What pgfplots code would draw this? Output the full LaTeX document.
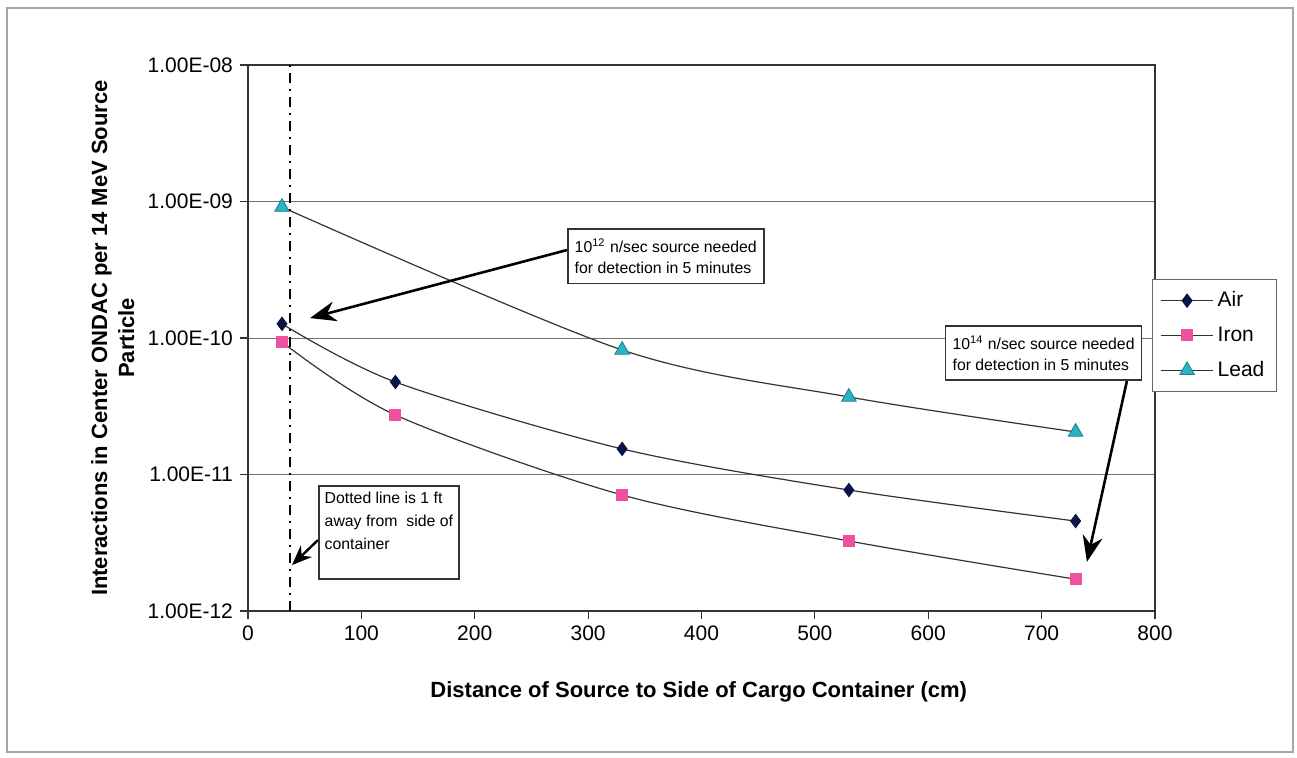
\documentclass[border=0pt]{standalone}
\usepackage{fontspec}
\setmainfont{Liberation Sans}
\usepackage{pgfplots}
\pgfplotsset{compat=1.18}
\usetikzlibrary{arrows.meta}

\definecolor{airc}{RGB}{10,20,70}
\definecolor{ironc}{RGB}{240,80,160}
\definecolor{leadc}{RGB}{40,180,195}

\newcommand{\tickfont}{\fontsize{10.5}{12}\selectfont}
\newcommand{\notefont}{\fontsize{7.9}{10.5}\selectfont}

\begin{document}
\begin{tikzpicture}
  \useasboundingbox (-124pt,-73.5pt) rectangle (524.5pt,305.5pt);
  \begin{axis}[
    scale only axis,
    width=453.5pt, height=273pt,
    at={(0,0)}, anchor=south west,
    ymode=log,
    xmin=0, xmax=800, ymin=1e-12, ymax=1e-8,
    xtick={0,100,...,800},
    ytick={1e-12,1e-11,1e-10,1e-9,1e-8},
    yticklabels={1.00E-12,1.00E-11,1.00E-10,1.00E-09,1.00E-08},
    yminorticks=false,
    tick align=outside, tick pos=left,
    major tick length=4pt,
    ymajorgrids, grid style={black!55, line width=0.5pt},
    axis line style={black!80, line width=0.6pt},
    tick style={black!80, line width=0.6pt},
    ticklabel style={font=\tickfont},
    /pgf/number format/assume math mode=true,
    clip=false,
    xlabel={\bfseries Distance of Source to Side of Cargo Container (cm)},
    xlabel style={font=\fontsize{11}{13}\selectfont, at={(axis description cs:0.497,-0.148)}, anchor=center},
    ylabel={\bfseries Interactions in Center ONDAC per 14 MeV Source\\\bfseries Particle},
    ylabel style={font=\fontsize{11}{13.5}\selectfont, align=center, at={(axis description cs:-0.149,0.5)}, anchor=center},
    legend style={at={(axis description cs:0.9967,0.608)}, anchor=north west,
      draw=black!60, line width=0.5pt, font=\tickfont,
      row sep=4.5pt, inner ysep=4pt, inner xsep=4pt,
      cells={anchor=west}},
    legend image code/.code={%
      \draw[mark repeat=2,mark phase=2] plot coordinates {(0pt,0pt) (13pt,0pt) (26pt,0pt)};},
  ]
  \addplot[smooth, draw=black!80, line width=0.6pt, mark=diamond*, mark size=3.2pt,
    mark options={fill=airc, draw=airc}] coordinates {
    (30,1.27e-10) (130,4.76e-11) (330,1.54e-11) (530,7.7e-12) (730,4.56e-12)};
  \addlegendentry{Air}
  \addplot[smooth, draw=black!80, line width=0.6pt, mark=square*, mark size=2.7pt,
    mark options={fill=ironc, draw=ironc}] coordinates {
    (30,9.35e-11) (130,2.73e-11) (330,7.08e-12) (530,3.26e-12) (730,1.71e-12)};
  \addlegendentry{Iron}
  \addplot[smooth, draw=black!80, line width=0.6pt, mark=triangle*, mark size=4.2pt,
    mark options={fill=leadc, draw=leadc!70!black, line width=0.4pt}] coordinates {
    (30,9.1e-10) (330,8.17e-11) (530,3.70e-11) (730,2.05e-11)};
  \addlegendentry{Lead}

  % 1 ft line
  \addplot[forget plot, black, line width=1.2pt, dash pattern=on 5pt off 3pt on 1pt off 3pt]
    coordinates {(37,1e-12) (37,1e-8)};

  % notes
  \draw[line width=1.3pt, -{Stealth[length=13pt,width=10pt]}]
    (axis cs:281.3,4.41e-10) -- (axis cs:54.7,1.40e-10);
  \node[draw=black!80, line width=0.8pt, fill=white, anchor=north west, align=left,
    minimum width=98pt, inner xsep=3pt, inner ysep=5pt, font=\notefont] at (axis cs:281.3,6.40e-10)
    {10\textsuperscript{12} n/sec source needed\\for detection in 5 minutes};

  \draw[line width=1.3pt, -{Stealth[length=13pt,width=10pt]}, draw=black]
    (axis cs:776,5.18e-11) -- (axis cs:740,2.29e-12);
  \node[draw=black!80, line width=0.8pt, fill=white, anchor=north west, align=left,
    minimum width=98pt, inner xsep=3pt, inner ysep=5pt, font=\notefont] at (axis cs:614.6,1.245e-10)
    {10\textsuperscript{14} n/sec source needed\\for detection in 5 minutes};

  \draw[line width=1.2pt, -{Stealth[length=10pt,width=8pt]}]
    (axis cs:61.7,3.31e-12) -- (axis cs:38.8,2.17e-12);
  \node[draw=black!80, line width=0.8pt, fill=white, anchor=north west, align=left,
    minimum width=68.5pt, inner sep=3pt, font=\fontsize{7.9}{11.5}\selectfont] at (axis cs:61.7,8.37e-12)
    {Dotted line is 1 ft\\away from~ side of\\container\\[-3pt]\strut};
  \end{axis}
  \draw[black!35, line width=0.6pt] (-120.5pt,-70.5pt) rectangle (522.5pt,301.5pt);
\end{tikzpicture}
\end{document}
